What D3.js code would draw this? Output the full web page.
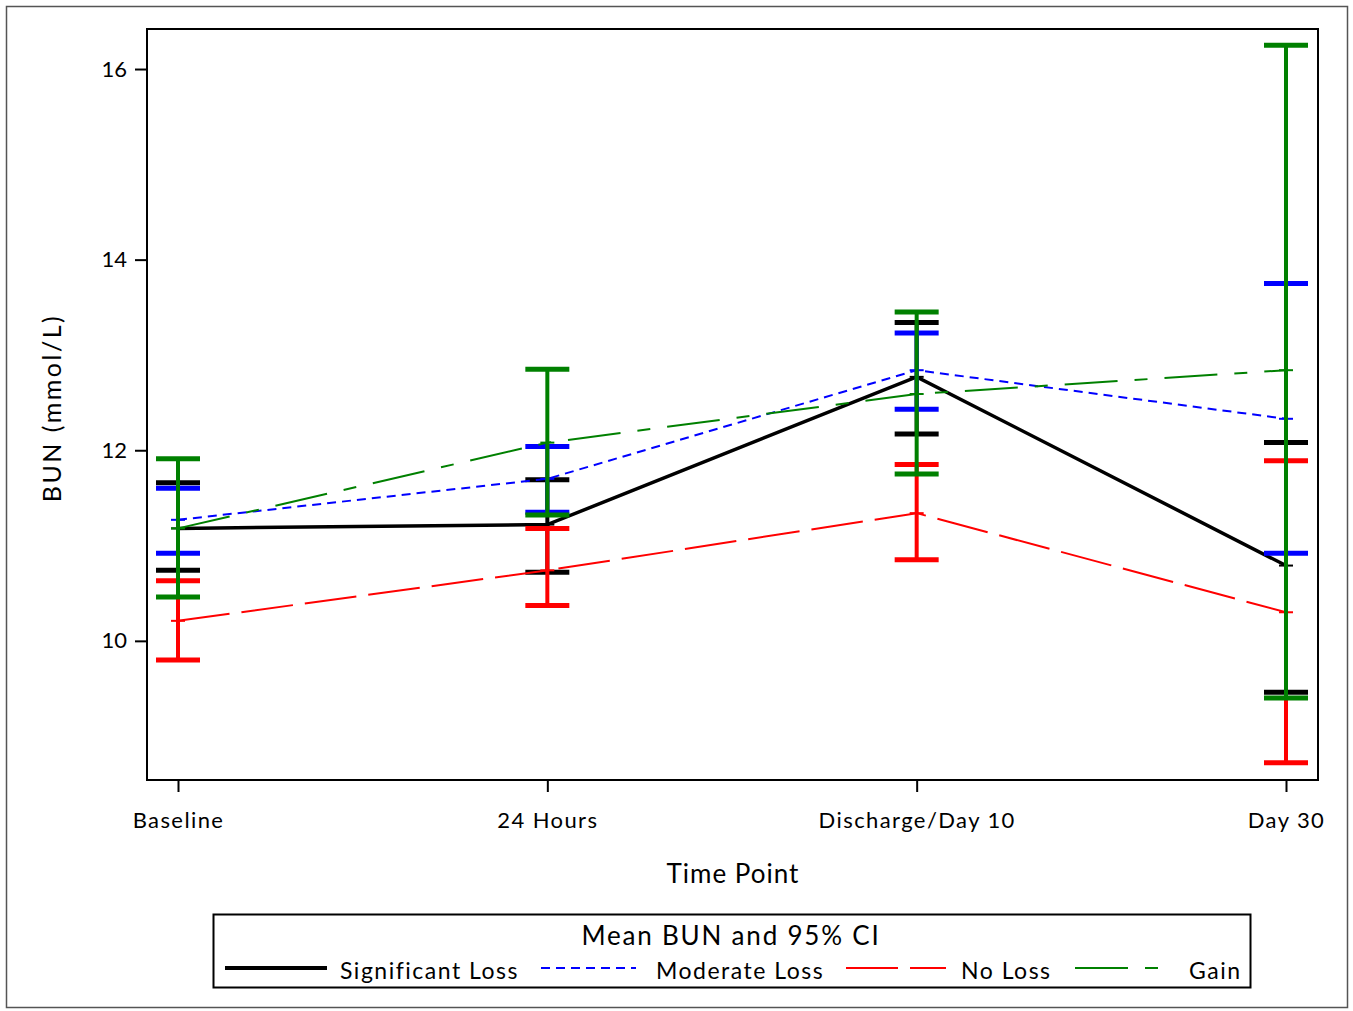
<!DOCTYPE html>
<html>
<head>
<meta charset="utf-8">
<script src="https://cdn.jsdelivr.net/npm/d3@7"></script>
<style>
  body { margin: 0; background: #fff; }
  svg text { font-family: Lato, 'Open Sans', sans-serif; fill: #000; }
</style>
</head>
<body>
<svg id="chart"></svg>
<script>
const timePoints = ['Baseline', '24 Hours', 'Discharge/Day 10', 'Day 30']
const yTicks = [10, 12, 14, 16]

const sigMean = [11.18, 11.22, 12.77, 10.79]
const sigLow = [10.74, 10.72, 12.17, 9.46]
const sigHigh = [11.66, 11.69, 13.34, 12.08]

const modMean = [11.27, 11.7, 12.84, 12.33]
const modLow = [10.92, 11.35, 12.43, 10.92]
const modHigh = [11.6, 12.04, 13.23, 13.75]

const noMean = [10.21, 10.74, 11.34, 10.3]
const noLow = [9.8, 10.37, 10.85, 8.72]
const noHigh = [10.63, 11.18, 11.85, 11.89]

const gainMean = [11.18, 12.08, 12.59, 12.84]
const gainLow = [10.46, 11.32, 11.75, 9.4]
const gainHigh = [11.91, 12.85, 13.45, 16.25]

const series = [
  { name: 'Significant Loss', color: '#000', width: 3.5, dash: null, mean: sigMean, low: sigLow, high: sigHigh },
  { name: 'Moderate Loss', color: '#0000ff', width: 2, dash: '9,6', mean: modMean, low: modLow, high: modHigh },
  { name: 'No Loss', color: '#ff0000', width: 2, dash: '52,12', mean: noMean, low: noLow, high: noHigh },
  { name: 'Gain', color: '#008000', width: 2, dash: '53,17,13,17', mean: gainMean, low: gainLow, high: gainHigh },
]

const w = 1353
const h = 1011
const plot = { left: 147, right: 1318, top: 29, bottom: 780 }

const svg = d3.select('#chart').attr('width', w).attr('height', h)

svg.append('rect')
  .attr('x', 6.5).attr('y', 6.5)
  .attr('width', 1341).attr('height', 1001)
  .attr('fill', '#fff').attr('stroke', '#555').attr('stroke-width', 1.5)

const x = d3.scalePoint().domain(timePoints).range([178, 1286])
const y = d3.scaleLinear().domain([8.54, 16.42]).range([plot.bottom, plot.top])

// axes
const xAxis = svg.append('g')
  .attr('transform', `translate(0, ${plot.bottom})`)
  .call(d3.axisBottom(x).tickSize(12).tickSizeOuter(0).tickPadding(20))
xAxis.select('.domain').remove()
xAxis.selectAll('line').attr('stroke', '#000').attr('stroke-width', 2)
xAxis.selectAll('text').style('font-size', '22px').style('letter-spacing', '1.4px')

const yAxis = svg.append('g')
  .attr('transform', `translate(${plot.left}, 0)`)
  .call(d3.axisLeft(y).tickValues(yTicks).tickSize(12).tickSizeOuter(0).tickPadding(8))
yAxis.select('.domain').remove()
yAxis.selectAll('line').attr('stroke', '#000').attr('stroke-width', 2)
yAxis.selectAll('text').style('font-size', '22px')

svg.append('rect')
  .attr('x', plot.left).attr('y', plot.top)
  .attr('width', plot.right - plot.left).attr('height', plot.bottom - plot.top)
  .attr('fill', 'none').attr('stroke', '#000').attr('stroke-width', 2)

svg.append('text')
  .attr('transform', 'translate(61, 408) rotate(-90)')
  .attr('text-anchor', 'middle')
  .style('font-size', '25px')
  .style('letter-spacing', '2.5px')
  .text('BUN (mmol/L)')

svg.append('text')
  .attr('x', 733).attr('y', 883)
  .attr('text-anchor', 'middle')
  .style('font-size', '26px')
  .style('letter-spacing', '1px')
  .text('Time Point')

// series
const capW = 22
series.forEach((s) => {
  const g = svg.append('g')
  timePoints.forEach((t, i) => {
    const cx = x(t)
    g.append('line')
      .attr('x1', cx).attr('x2', cx)
      .attr('y1', y(s.low[i])).attr('y2', y(s.high[i]))
      .attr('stroke', s.color).attr('stroke-width', 4)
    ;[s.low[i], s.high[i]].forEach((v) => {
      g.append('line')
        .attr('x1', cx - capW).attr('x2', cx + capW)
        .attr('y1', y(v)).attr('y2', y(v))
        .attr('stroke', s.color).attr('stroke-width', 5)
    })
    g.append('line')
      .attr('x1', cx - 7).attr('x2', cx + 7)
      .attr('y1', y(s.mean[i])).attr('y2', y(s.mean[i]))
      .attr('stroke', s.color).attr('stroke-width', 2)
  })
  g.append('path')
    .datum(s.mean)
    .attr('d', d3.line().x((d, i) => x(timePoints[i])).y((d) => y(d)))
    .attr('fill', 'none')
    .attr('stroke', s.color)
    .attr('stroke-width', s.width)
    .attr('stroke-dasharray', s.dash)
})

// legend
const lg = svg.append('g')
lg.append('rect')
  .attr('x', 213.5).attr('y', 914.5)
  .attr('width', 1037).attr('height', 73)
  .attr('fill', '#fff').attr('stroke', '#000').attr('stroke-width', 2)
lg.append('text')
  .attr('x', 731).attr('y', 945)
  .attr('text-anchor', 'middle')
  .style('font-size', '26px')
  .style('letter-spacing', '1.8px')
  .text('Mean BUN and 95% CI')

const legendPos = [
  { x1: 225, x2: 327, tx: 340 },
  { x1: 541, x2: 636, tx: 656 },
  { x1: 846, x2: 946, tx: 961 },
  { x1: 1075, x2: 1160, tx: 1189 },
]
series.forEach((s, i) => {
  const p = legendPos[i]
  lg.append('line')
    .attr('x1', p.x1).attr('x2', p.x2)
    .attr('y1', 968).attr('y2', 968)
    .attr('stroke', s.color)
    .attr('stroke-width', s.dash ? 2 : 4)
    .attr('stroke-dasharray', s.dash)
  lg.append('text')
    .attr('x', p.tx).attr('y', 979)
    .style('font-size', '23px')
    .style('letter-spacing', '1.5px')
    .text(s.name)
})
</script>
</body>
</html>
